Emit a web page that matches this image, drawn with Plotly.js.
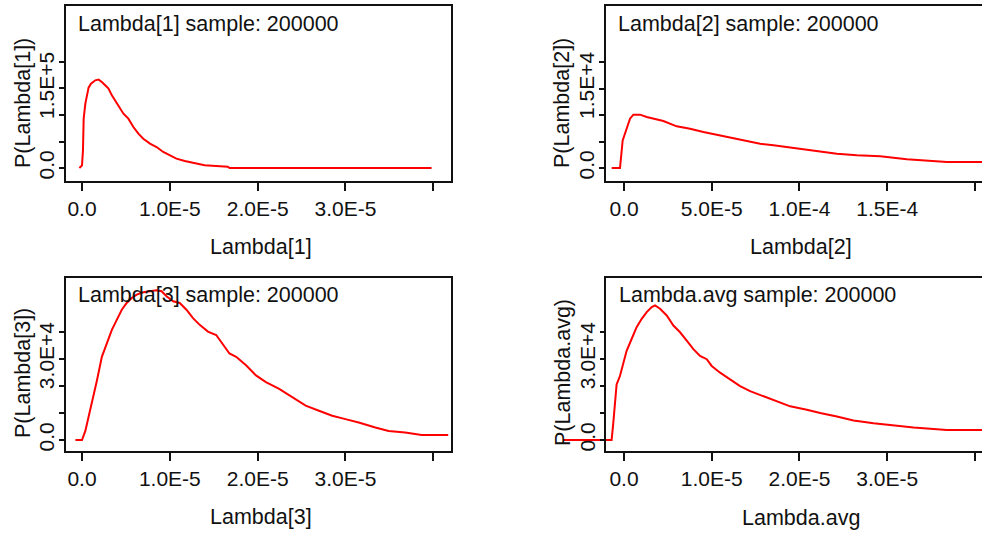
<!DOCTYPE html>
<html>
<head>
<meta charset="utf-8">
<script src="https://cdn.plot.ly/plotly-3.0.1.min.js"></script>
<style>
html,body{margin:0;padding:0;background:#fff;}
#chart{width:982px;height:536px;}
</style>
</head>
<body>
<div id="chart"></div>
<script>
// ---- data ----
const panelTitles = ["Lambda[1] sample: 200000", "Lambda[2] sample: 200000", "Lambda[3] sample: 200000", "Lambda.avg sample: 200000"];
const xTitles = ["Lambda[1]", "Lambda[2]", "Lambda[3]", "Lambda.avg"];
const yTitles = ["P(Lambda[1])", "P(Lambda[2])", "P(Lambda[3])", "P(Lambda.avg)"];

const lambda1_x = [-3.0e-7, 0, 1.1e-7, 1.9e-7, 3.8e-7, 5.7e-7, 7.5e-7, 1.02e-6, 1.51e-6, 1.89e-6, 2.26e-6, 2.64e-6, 3.02e-6, 3.40e-6, 3.77e-6, 4.34e-6, 4.72e-6, 5.28e-6, 5.85e-6, 6.42e-6, 6.98e-6, 7.74e-6, 8.49e-6, 9.25e-6, 1.0e-5, 1.075e-5, 1.17e-5, 1.264e-5, 1.396e-5, 1.528e-5, 1.66e-5, 1.68e-5, 3.98e-5];
const lambda1_p = [0, 5000, 33300, 93100, 121400, 137100, 151600, 159100, 165400, 166700, 162300, 156000, 149700, 137100, 127700, 111900, 102500, 93100, 77400, 64800, 55300, 45900, 39600, 30200, 23900, 17600, 13200, 9400, 5000, 3800, 2500, 0, 0];

const lambda2_x = [-7.03e-6, -2.28e-6, -7.6e-7, 5.7e-7, 1.9e-6, 3.42e-6, 5.32e-6, 9.13e-6, 1.293e-5, 1.673e-5, 2.243e-5, 3.004e-5, 3.764e-5, 4.525e-5, 5.475e-5, 6.236e-5, 6.996e-5, 7.757e-5, 8.517e-5, 9.278e-5, 1.0038e-4, 1.1179e-4, 1.213e-4, 1.327e-4, 1.460e-4, 1.612e-4, 1.840e-4, 2.042e-4];
const lambda2_p = [0, 0, 5220, 6478, 8050, 9308, 10063, 10063, 9623, 9308, 8868, 7862, 7421, 6792, 6164, 5535, 5094, 4591, 4277, 3962, 3522, 3145, 2704, 2390, 2201, 1635, 1132, 1132];

const lambda3_x = [-7.5e-7, 0, 3.8e-7, 7.5e-7, 1.13e-6, 1.70e-6, 2.26e-6, 2.83e-6, 3.40e-6, 3.96e-6, 4.53e-6, 5.09e-6, 5.66e-6, 6.23e-6, 6.98e-6, 7.74e-6, 8.49e-6, 9.06e-6, 9.62e-6, 1.038e-5, 1.113e-5, 1.189e-5, 1.264e-5, 1.340e-5, 1.434e-5, 1.528e-5, 1.585e-5, 1.679e-5, 1.755e-5, 1.868e-5, 1.981e-5, 2.094e-5, 2.245e-5, 2.396e-5, 2.547e-5, 2.698e-5, 2.849e-5, 3.0e-5, 3.151e-5, 3.340e-5, 3.491e-5, 3.679e-5, 3.868e-5, 4.17e-5];
const lambda3_p = [0, 0, 3354, 8323, 14534, 21988, 30683, 35652, 40621, 44348, 48075, 50559, 52422, 53665, 54534, 54907, 55280, 54907, 53043, 51180, 50559, 48075, 44969, 42484, 40000, 38758, 36273, 31925, 30683, 27578, 23851, 21366, 18882, 15776, 12671, 10807, 8944, 7702, 6460, 4596, 3354, 2733, 1863, 1863];

const lambdaAvg_x = [-6.92e-6, -1.41e-6, -1.22e-6, -1.03e-6, -8.4e-7, -4.6e-7, -8e-8, 3.0e-7, 8.7e-7, 1.44e-6, 2.02e-6, 2.59e-6, 3.16e-6, 3.54e-6, 4.11e-6, 4.87e-6, 5.63e-6, 6.39e-6, 7.15e-6, 7.91e-6, 8.67e-6, 9.43e-6, 1.0e-5, 1.095e-5, 1.209e-5, 1.323e-5, 1.437e-5, 1.589e-5, 1.741e-5, 1.894e-5, 2.084e-5, 2.236e-5, 2.426e-5, 2.616e-5, 2.844e-5, 3.072e-5, 3.30e-5, 3.68e-5, 4.08e-5];
const lambdaAvg_p = [0, 0, 6211, 14907, 20497, 23602, 28571, 32919, 37267, 41615, 44720, 47205, 49068, 49689, 48447, 45963, 42236, 39752, 36646, 33540, 31056, 29814, 27329, 24845, 22360, 19876, 18012, 16149, 14286, 12422, 11180, 9938, 8696, 7205, 6211, 5342, 4596, 3727, 3727];

// tick values and labels
const xTickVals1 = [0, 1e-5, 2e-5, 3e-5, 4e-5];
const xTickText1 = ["0.0", "1.0E-5", "2.0E-5", "3.0E-5", ""];
const xTickVals2 = [0, 5e-5, 1e-4, 1.5e-4, 2e-4];
const xTickText2 = ["0.0", "5.0E-5", "1.0E-4", "1.5E-4", ""];
const yTickVals1 = [0, 5e4, 1e5, 1.5e5, 2e5];
const yTickText1 = ["0.0", "", "", "1.5E+5", ""];
const yTickVals2 = [0, 5e3, 1e4, 1.5e4, 2e4];
const yTickText2 = ["0.0", "", "", "1.5E+4", ""];
const yTickVals3 = [0, 1e4, 2e4, 3e4, 4e4];
const yTickText3 = ["0.0", "", "", "3.0E+4", ""];

// ---- layout geometry (pixels) ----
const W = 982, H = 536;
const px = v => v / W;
const py = v => 1 - v / H;
const FONT = "Liberation Sans, Arial, sans-serif";
const TXT = "#111";
const TICKSIZE = 21;
const TITLESIZE = 21.5;

const line = {color: "#ff0000", width: 2};
const traces = [
  {x: lambda1_x, y: lambda1_p, xaxis: "x", yaxis: "y"},
  {x: lambda2_x, y: lambda2_p, xaxis: "x2", yaxis: "y2"},
  {x: lambda3_x, y: lambda3_p, xaxis: "x3", yaxis: "y3"},
  {x: lambdaAvg_x, y: lambdaAvg_p, xaxis: "x4", yaxis: "y4"}
].map(t => Object.assign(t, {type: "scatter", mode: "lines", line: line, hoverinfo: "skip", showlegend: false}));

function xa(domain, range, vals, text, anchor) {
  return {domain: domain, range: range, anchor: anchor, tickvals: vals, ticktext: text,
    ticks: "outside", ticklen: 8, tickwidth: 2, tickcolor: "#111", showline: false,
    showgrid: false, zeroline: false, automargin: false,
    tickfont: {family: FONT, size: TICKSIZE, color: TXT}};
}
function ya(domain, range, vals, text, anchor, pos) {
  const o = {domain: domain, range: range, anchor: anchor, tickvals: vals, ticktext: text,
    ticks: "outside", ticklen: 5, tickwidth: 2, tickcolor: "#111", showline: false,
    showgrid: false, zeroline: false, automargin: false, tickangle: -90, ticklabelstandoff: -3,
    tickfont: {family: FONT, size: TICKSIZE, color: TXT}};
  if (pos !== undefined) { o.position = pos; }
  return o;
}

const topY = [py(182), py(5)];
const botY = [py(452), py(277)];

const layout = {
  width: W, height: H,
  margin: {l: 0, r: 0, t: 0, b: 0, pad: 0},
  paper_bgcolor: "#fff", plot_bgcolor: "rgba(0,0,0,0)",
  font: {family: FONT, size: TICKSIZE, color: TXT},
  xaxis: xa([px(65), px(452)], [-1.936e-6, 4.213e-5], xTickVals1, xTickText1, "y"),
  yaxis: ya(topY, [-26400, 307500], yTickVals1, yTickText1, "x"),
  xaxis2: xa([px(605), 1], [-1.083e-5, 2.040e-4], xTickVals2, xTickText2, "y2"),
  yaxis2: ya(topY, [-2640, 30755], yTickVals2, yTickText2, "x2"),
  xaxis3: xa([px(65), px(452)], [-1.936e-6, 4.213e-5], xTickVals1, xTickText1, "y3"),
  yaxis3: ya(botY, [-4428, 60148], yTickVals3, yTickText3, "x3"),
  xaxis4: xa([px(563), 1], [-6.95e-6, 4.080e-5], xTickVals1, xTickText1, "y4"),
  yaxis4: ya(botY, [-4428, 60148], yTickVals3, yTickText3, "free", px(605)),
  shapes: [
    [65, 452, 5, 182], [605, 1000, 5, 182], [65, 452, 277, 452], [605, 1000, 277, 452]
  ].map(b => ({type: "rect", xref: "paper", yref: "paper", x0: px(b[0]), x1: px(b[1]), y0: py(b[3]), y1: py(b[2]),
      line: {color: "#111", width: 2}, fillcolor: "rgba(0,0,0,0)", layer: "above"})),
  annotations: []
};

const titlePos = [[76, 24], [616, 24], [76, 295], [617, 295]];
const xTitlePos = [[261, 247], [801, 247], [261, 517], [801, 518]];
const yTitlePos = [[23, 103], [562, 103], [23, 373], [563, 373]];
for (let i = 0; i < 4; i++) {
  layout.annotations.push({text: panelTitles[i], xref: "paper", yref: "paper", x: px(titlePos[i][0]), y: py(titlePos[i][1]),
    xanchor: "left", yanchor: "middle", showarrow: false, font: {family: FONT, size: TITLESIZE, color: TXT}});
  layout.annotations.push({text: xTitles[i], xref: "paper", yref: "paper", x: px(xTitlePos[i][0]), y: py(xTitlePos[i][1]),
    xanchor: "center", yanchor: "middle", showarrow: false, font: {family: FONT, size: TITLESIZE, color: TXT}});
  layout.annotations.push({text: yTitles[i], xref: "paper", yref: "paper", x: px(yTitlePos[i][0]), y: py(yTitlePos[i][1]),
    xanchor: "center", yanchor: "middle", textangle: -90, showarrow: false, font: {family: FONT, size: TITLESIZE, color: TXT}});
}

Plotly.newPlot("chart", traces, layout, {displayModeBar: false, staticPlot: true});
</script>
</body>
</html>
